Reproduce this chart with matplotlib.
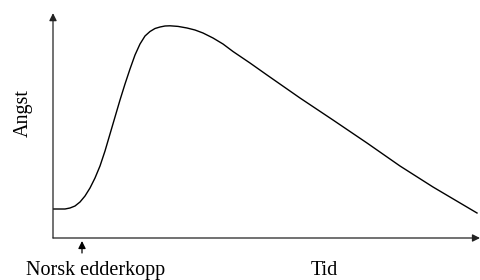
import matplotlib
matplotlib.use("Agg")
import matplotlib.pyplot as plt

# curve (arbitrary units)
tid = [0, 12, 17, 22, 27, 32, 37, 42, 47, 52, 57, 62, 67, 72, 77, 82, 87, 92, 97, 102,
       107, 112, 117, 125, 134, 142, 150, 160, 170, 180, 197, 214, 247, 280, 314, 347, 380, 402, 424]
angst = [29, 29, 30, 32, 36, 42, 50, 60, 72, 87, 104, 121, 138, 154, 169, 183, 194, 202, 206.5, 209.5,
         211, 212, 212.2, 211.6, 210, 208, 205, 200, 194, 186.5, 175, 163, 140, 118, 95, 72, 51, 38, 25]

spider_t = 29  # "Norsk edderkopp" marker

plt.rcParams['font.family'] = ['Liberation Serif', 'DejaVu Serif']

fig = plt.figure(figsize=(4.8, 2.8), dpi=100)
ax = fig.add_axes([53/480, 42/280, 427/480, 226/280])
ax.set_xlim(0, 427)
ax.set_ylim(0, 226)
for s in ax.spines.values():
    s.set_visible(False)
ax.set_xticks([])
ax.set_yticks([])

ax.plot(tid, angst, color='black', lw=1.0)

# axes as arrows
arrow = dict(arrowstyle='-|>', color='#222222', lw=0.9, mutation_scale=11, shrinkA=0, shrinkB=0)
ax.annotate('', xy=(0, 0.995), xytext=(0, 0), xycoords='axes fraction', arrowprops=arrow)
ax.annotate('', xy=(1.0, 0), xytext=(0, 0), xycoords='axes fraction', arrowprops=arrow)

# marker under x axis
ax.annotate('', xy=(spider_t, -3), xytext=(spider_t, -15), xycoords='data',
            arrowprops=dict(arrowstyle='-|>', color='black', lw=0.9, mutation_scale=11,
                            shrinkA=0, shrinkB=0), annotation_clip=False)

fs = 14.5
fig.text(96/480, 1 - 275/280, 'Norsk edderkopp', ha='center', va='baseline', fontsize=fs)
fig.text(324/480, 1 - 275/280, 'Tid', ha='center', va='baseline', fontsize=fs)
fig.text(27.5/480, 1 - 113/280, 'Angst', ha='center', va='baseline', rotation=90,
         rotation_mode='anchor', fontsize=fs)

fig.savefig('out.png', dpi=100)
